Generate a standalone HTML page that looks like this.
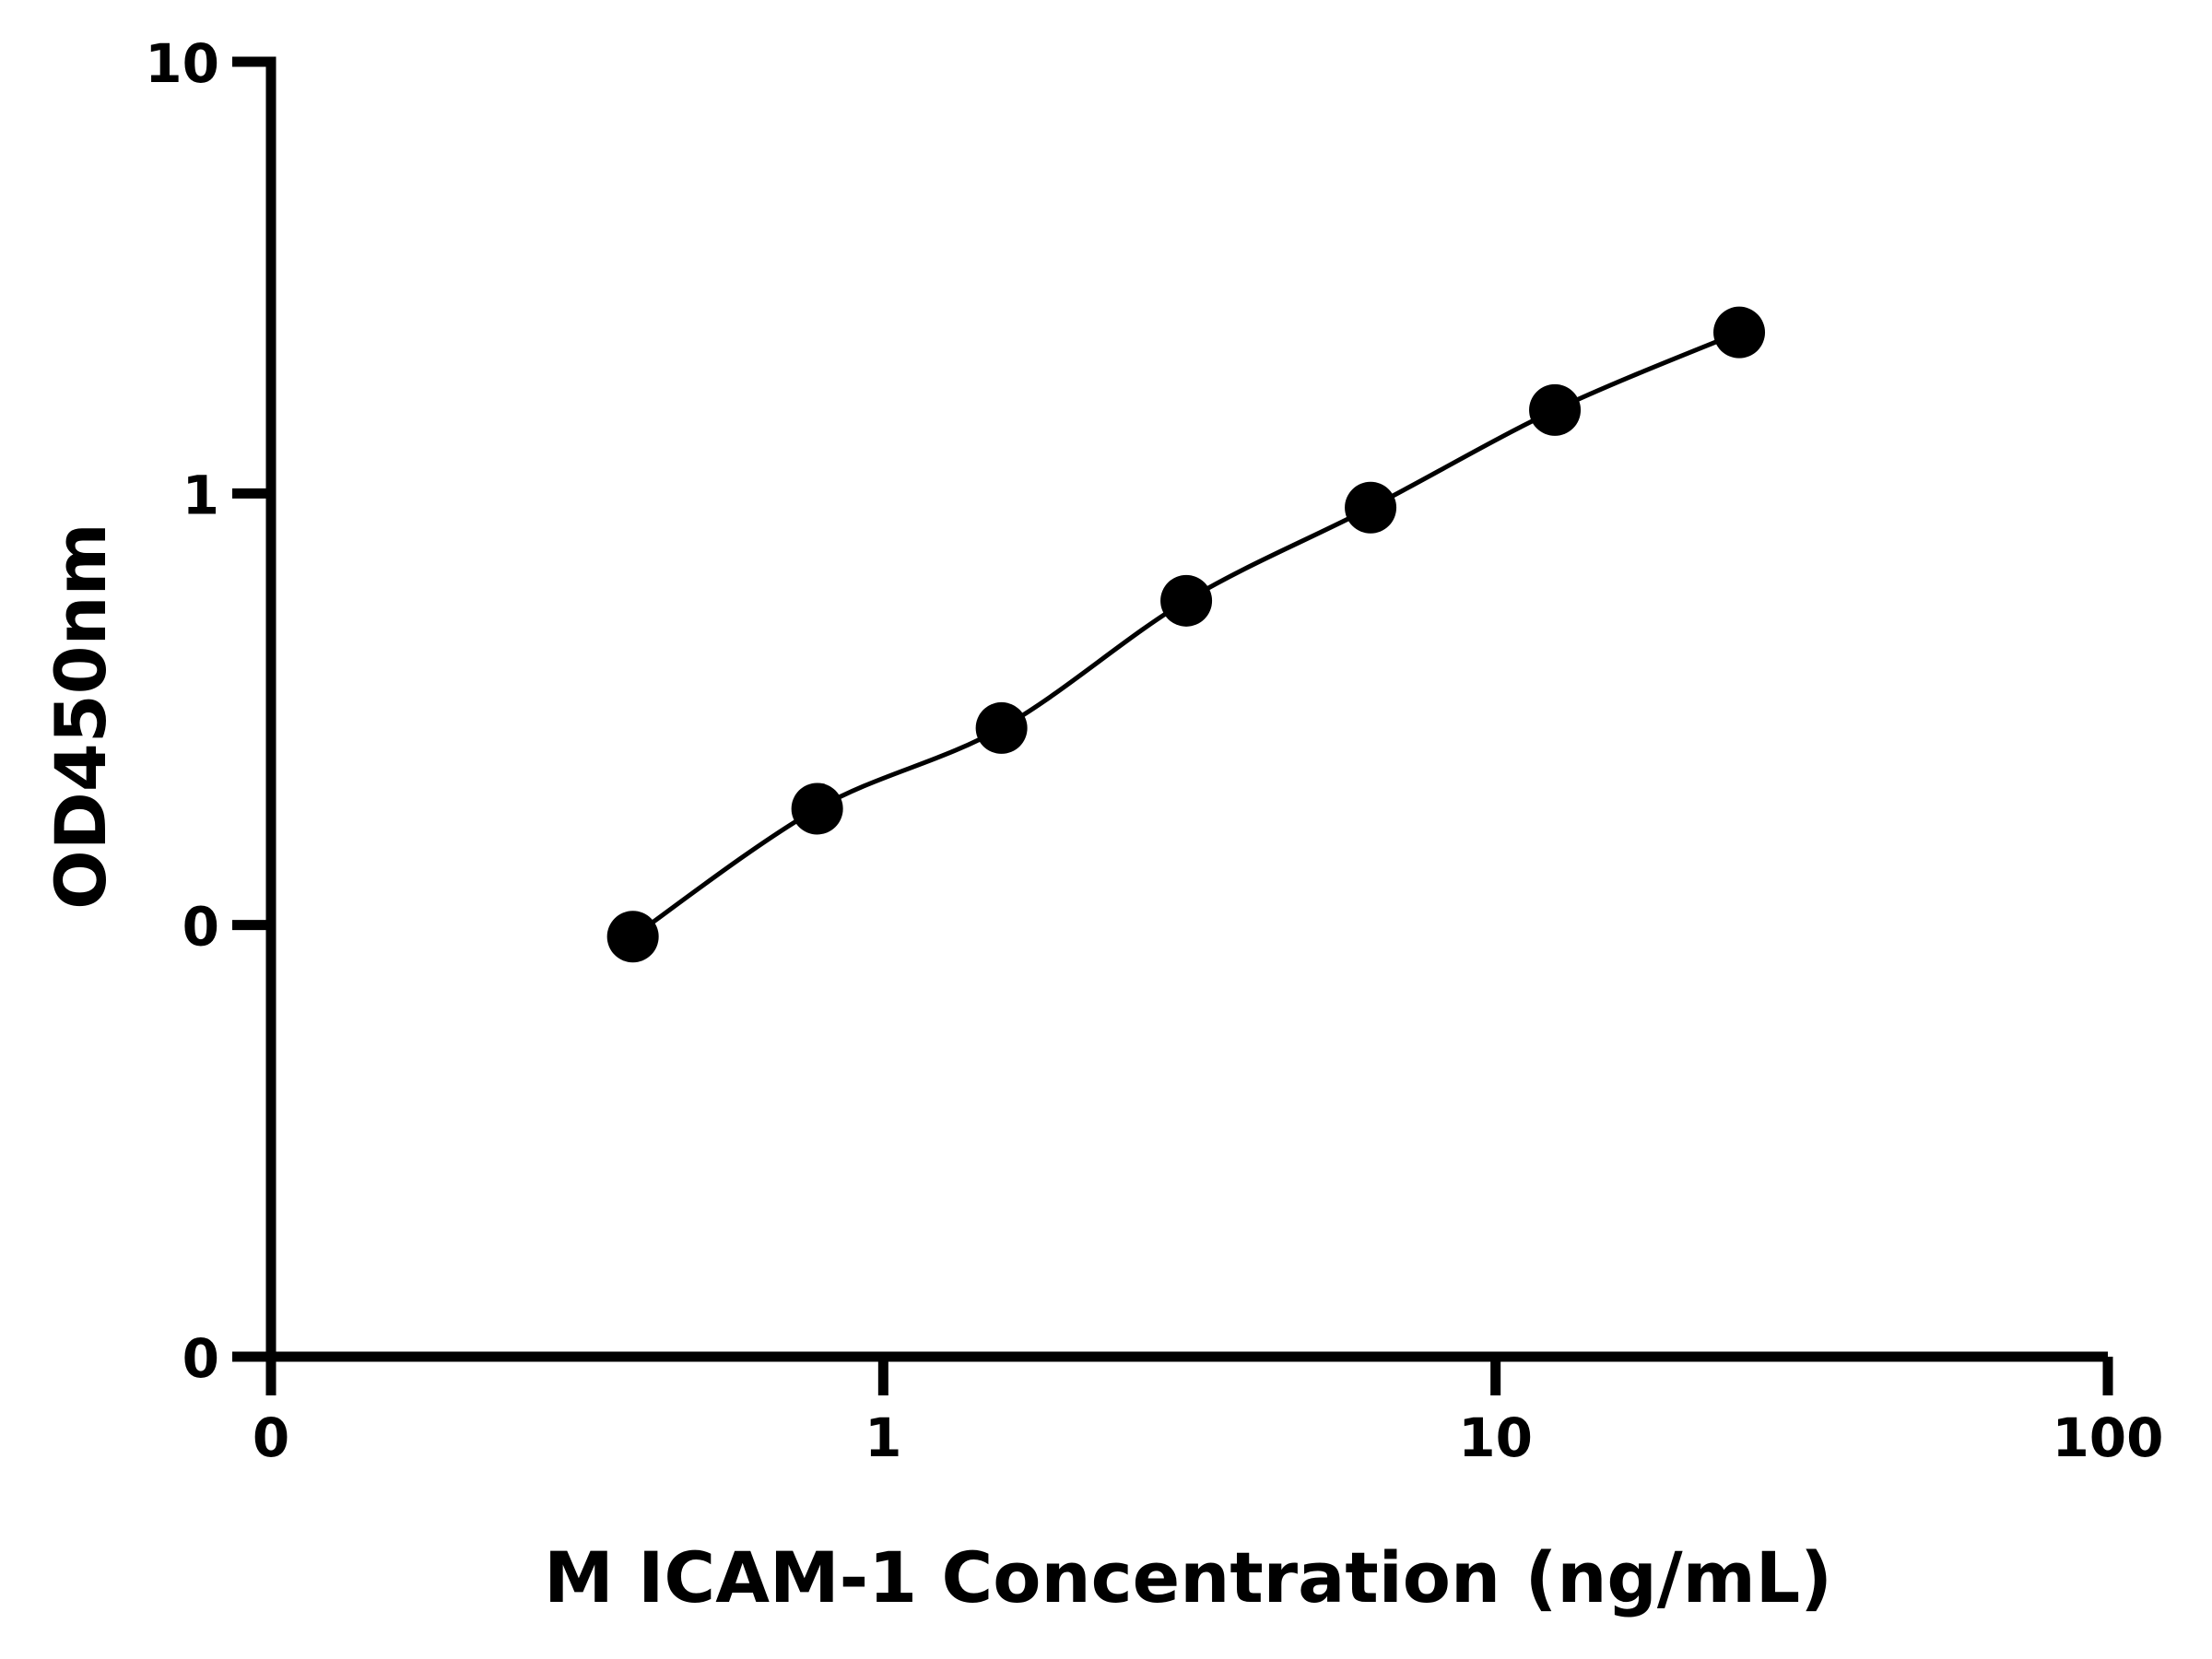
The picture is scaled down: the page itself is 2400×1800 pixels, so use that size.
<!DOCTYPE html>
<html><head><meta charset="utf-8">
<style>
html,body{margin:0;padding:0;background:#fff;}
svg{display:block;}
text{font-family:"DejaVu Sans","Liberation Sans",sans-serif;font-weight:bold;fill:#000;}
</style></head>
<body>
<svg id="chart" width="2400" height="1800" viewBox="0 0 2400 1800" xmlns="http://www.w3.org/2000/svg">
<g id="axes"></g>
<g id="series"></g>
<text x="1289" y="1738" font-size="76" text-anchor="middle">M ICAM-1 Concentration (ng/mL)</text>
<text x="0" y="0" font-size="76" text-anchor="middle" transform="translate(114,777) rotate(-90)">OD450nm</text>
</svg>
<script>
const concentrations = [0.39, 0.78, 1.56, 3.125, 6.25, 12.5, 25];
const odValues = [0.094, 0.186, 0.286, 0.564, 0.927, 1.56, 2.36];
const xTickValues = [0.1, 1, 10, 100];
const xTickLabels = ["0", "1", "10", "100"];
const yTickValues = [0.01, 0.1, 1, 10];
const yTickLabels = ["0", "0", "1", "10"];

const NS = "http://www.w3.org/2000/svg";
const X0 = 294, X1 = 2287, Y0 = 1472, Y1 = 67;
function xScale(v){ return X0 + (Math.log10(v) + 1) / 3 * (X1 - X0); }
function yScale(v){ return Y0 - (Math.log10(v) + 2) / 3 * (Y0 - Y1); }
function mk(tag, attrs, parent){ const e = document.createElementNS(NS, tag); for (const k in attrs) e.setAttribute(k, attrs[k]); parent.appendChild(e); return e; }

const axes = document.getElementById('axes');
const yAxis = mk('line', {x1:X0, y1:Y1, x2:X0, y2:Y0, stroke:'#000', 'stroke-width':11, 'stroke-linecap':'square'}, axes);


const xAxis = mk('line', {x1:X0, y1:Y0, x2:X1, y2:Y0, stroke:'#000', 'stroke-width':11}, axes);



xTickValues.forEach((v, i) => {
  const x = xScale(v);
  const t = mk('line', {x1:x, y1:Y0, x2:x, y2:Y0 + 42, stroke:'#000', 'stroke-width':11}, axes);
  
  
  const l = mk('text', {x:x, y:1580, 'font-size':58, 'text-anchor':'middle'}, axes);
  l.textContent = xTickLabels[i];
  
  
});
yTickValues.forEach((v, i) => {
  const y = yScale(v);
  const t = mk('line', {x1:X0 - 42, y1:y, x2:X0, y2:y, stroke:'#000', 'stroke-width':11}, axes);
  
  
  const l = mk('text', {x:238, y:y + 22, 'font-size':58, 'text-anchor':'end'}, axes);
  l.textContent = yTickLabels[i];
  
  
});

const series = document.getElementById('series');
const pts = concentrations.map((c, i) => [xScale(c), yScale(odValues[i])]);
let d = 'M' + pts[0][0] + ',' + pts[0][1];
for (let i = 0; i < pts.length - 1; i++) {
  const p0 = pts[Math.max(i - 1, 0)], p1 = pts[i], p2 = pts[i + 1], p3 = pts[Math.min(i + 2, pts.length - 1)];
  const c1x = p1[0] + (p2[0] - p0[0]) / 6, c1y = p1[1] + (p2[1] - p0[1]) / 6;
  const c2x = p2[0] - (p3[0] - p1[0]) / 6, c2y = p2[1] - (p3[1] - p1[1]) / 6;
  d += ' C' + c1x + ',' + c1y + ' ' + c2x + ',' + c2y + ' ' + p2[0] + ',' + p2[1];
}
const curve = mk('path', {d:d, fill:'none', stroke:'#000', 'stroke-width':5}, series);


pts.forEach(p => {
  const c = mk('circle', {cx:p[0], cy:p[1], r:28, fill:'#000'}, series);
  
  
});
</script>
</body></html>
